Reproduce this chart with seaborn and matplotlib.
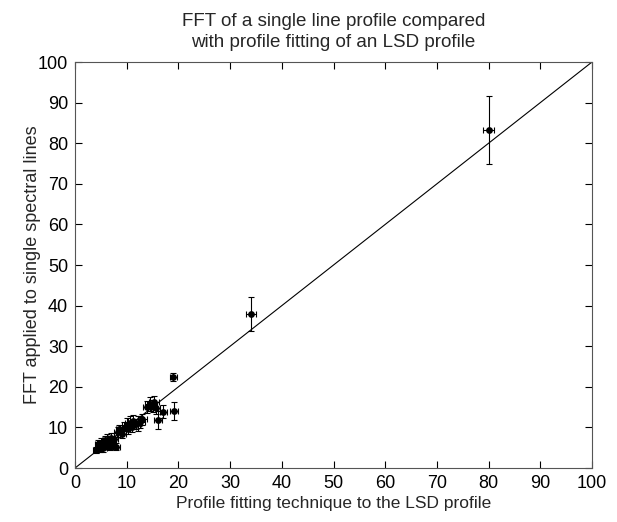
import numpy as np
import pandas as pd
import seaborn as sns
import matplotlib.pyplot as plt

# LSD profile fitting (x) vs FFT of single lines (y), with errors
lsd = [4.0, 4.5, 4.8, 5.0, 5.3, 5.5, 5.8, 6.0, 6.2, 6.5, 6.8, 7.0, 7.3, 7.6, 8.0,
       8.3, 8.6, 9.0, 9.5, 10.0, 10.3, 10.6, 11.0, 11.3, 11.8, 12.2, 12.6, 13.0,
       14.0, 14.5, 15.0, 15.3, 15.6, 16.1, 17.1, 19.1, 19.0, 34.0, 80.0]
fft = [4.5, 5.8, 4.8, 6.2, 5.5, 4.9, 6.8, 5.6, 7.0, 6.3, 5.2, 7.5, 6.6, 7.2, 5.3,
       8.9, 9.5, 8.4, 9.8, 10.6, 9.6, 11.2, 10.2, 11.6, 10.9, 11.0, 11.4, 12.0,
       15.0, 15.8, 15.3, 16.2, 14.8, 11.8, 13.9, 14.1, 22.5, 37.9, 83.3]
lsd_err = [0.6, 0.7, 0.5, 0.8, 0.6, 0.7, 0.6, 0.8, 0.7, 0.6, 0.9, 0.7, 0.6, 0.8, 0.7,
           0.8, 0.7, 0.9, 0.8, 1.0, 0.8, 0.9, 0.8, 1.0, 0.9, 0.8, 1.0, 0.9,
           0.9, 1.0, 0.8, 1.0, 0.9, 0.8, 0.7, 0.8, 0.7, 1.0, 1.0]
fft_err = [0.8, 1.0, 0.9, 1.2, 0.8, 1.0, 1.1, 0.9, 1.3, 0.9, 0.8, 1.2, 1.0, 1.4, 0.9,
           1.3, 1.2, 1.0, 1.5, 1.6, 1.2, 1.5, 1.3, 1.4, 1.2, 1.8, 1.5, 1.3,
           1.5, 1.8, 1.4, 1.6, 1.5, 2.3, 1.5, 2.2, 1.0, 4.2, 8.3]

df = pd.DataFrame({"lsd": lsd, "fft": fft, "xe": lsd_err, "ye": fft_err})

sns.set_style("ticks")
plt.rcParams['font.family'] = ['Liberation Sans', 'DejaVu Sans']

fig = plt.figure(figsize=(6.17, 5.22), dpi=100)
ax = fig.add_axes([0.1216, 0.1034, 0.8379, 0.7778])

ax.plot([0, 100], [0, 100], color="black", lw=0.8, zorder=1)
ax.errorbar(df["lsd"], df["fft"], xerr=df["xe"], yerr=df["ye"], fmt="none",
            ecolor="black", elinewidth=0.8, capsize=2.5, capthick=0.8, zorder=2)
sns.scatterplot(data=df, x="lsd", y="fft", ax=ax, color="black", s=24,
                edgecolor="black", linewidth=0, zorder=3)

ax.set_xlim(0, 100)
ax.set_ylim(0, 100)
ax.set_xticks(range(0, 101, 10))
ax.set_yticks(range(0, 101, 10))
ax.tick_params(direction="in", top=True, right=True, length=5, width=0.8,
               labelsize=13, colors="black", pad=5)
for s in ax.spines.values():
    s.set_linewidth(0.8)
    s.set_color("#555555")

ax.set_xlabel("Profile fitting technique to the LSD profile", fontsize=12.5, labelpad=3)
ax.set_ylabel("FFT applied to single spectral lines", fontsize=13)
ax.yaxis.set_label_coords(-0.066, 0.5)
ax.set_title("FFT of a single line profile compared\nwith profile fitting of an LSD profile",
             fontsize=13.5, pad=11, linespacing=1.3)

fig.savefig("out.png", dpi=100)
